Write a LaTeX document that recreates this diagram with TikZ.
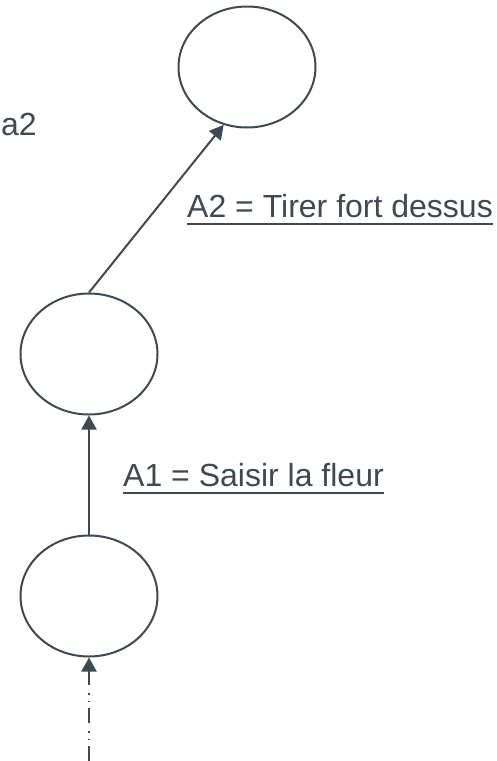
\documentclass[tikz,border=0pt]{standalone}
\usepackage{fontspec}
\setmainfont{Liberation Sans}
\usetikzlibrary{shapes.geometric,arrows.meta}
\definecolor{ardoise}{RGB}{64,72,80}

\begin{document}
\begin{tikzpicture}[x=1pt,y=-1pt,
    etat/.style={ellipse,draw=ardoise,line width=2pt,minimum width=137pt,minimum height=121pt,inner sep=0},
    fleche/.style={draw=ardoise,line width=2pt,-{Triangle[length=14pt,width=15pt]}},
    lbl/.style={anchor=base west,inner sep=0,text=ardoise,font=\fontsize{32}{38}\selectfont}]
	\useasboundingbox (0,0) rectangle (497,761);
	\node[etat] (s2) at (247,67) {};
	\node[etat] (s1) at (89,354) {};
	\node[etat] (s0) at (89,596) {};
	\coordinate (debut) at (89,761);
	\draw[fleche] (s1.north) -- (s2.248);
	\draw[fleche] (s0.north) -- (s1.south);
	\draw[fleche,dash pattern=on 15pt off 6pt on 1.5pt off 6pt on 1.5pt off 8pt] (debut) -- (s0.south);
	\node[lbl] (a2) at (1,135) {a2};
	\node[lbl] (t2) at (187,217) {A2 = Tirer fort dessus};
	\node[lbl] (t1) at (123,486) {A1 = Saisir la fleur};
	% soulignement des actions
	\draw[ardoise,line width=2pt] ([yshift=-7pt]t2.base west) -- ([yshift=-7pt]t2.base east);
	\draw[ardoise,line width=2pt] ([yshift=-7pt]t1.base west) -- ([yshift=-7pt]t1.base east);
\end{tikzpicture}
\end{document}
